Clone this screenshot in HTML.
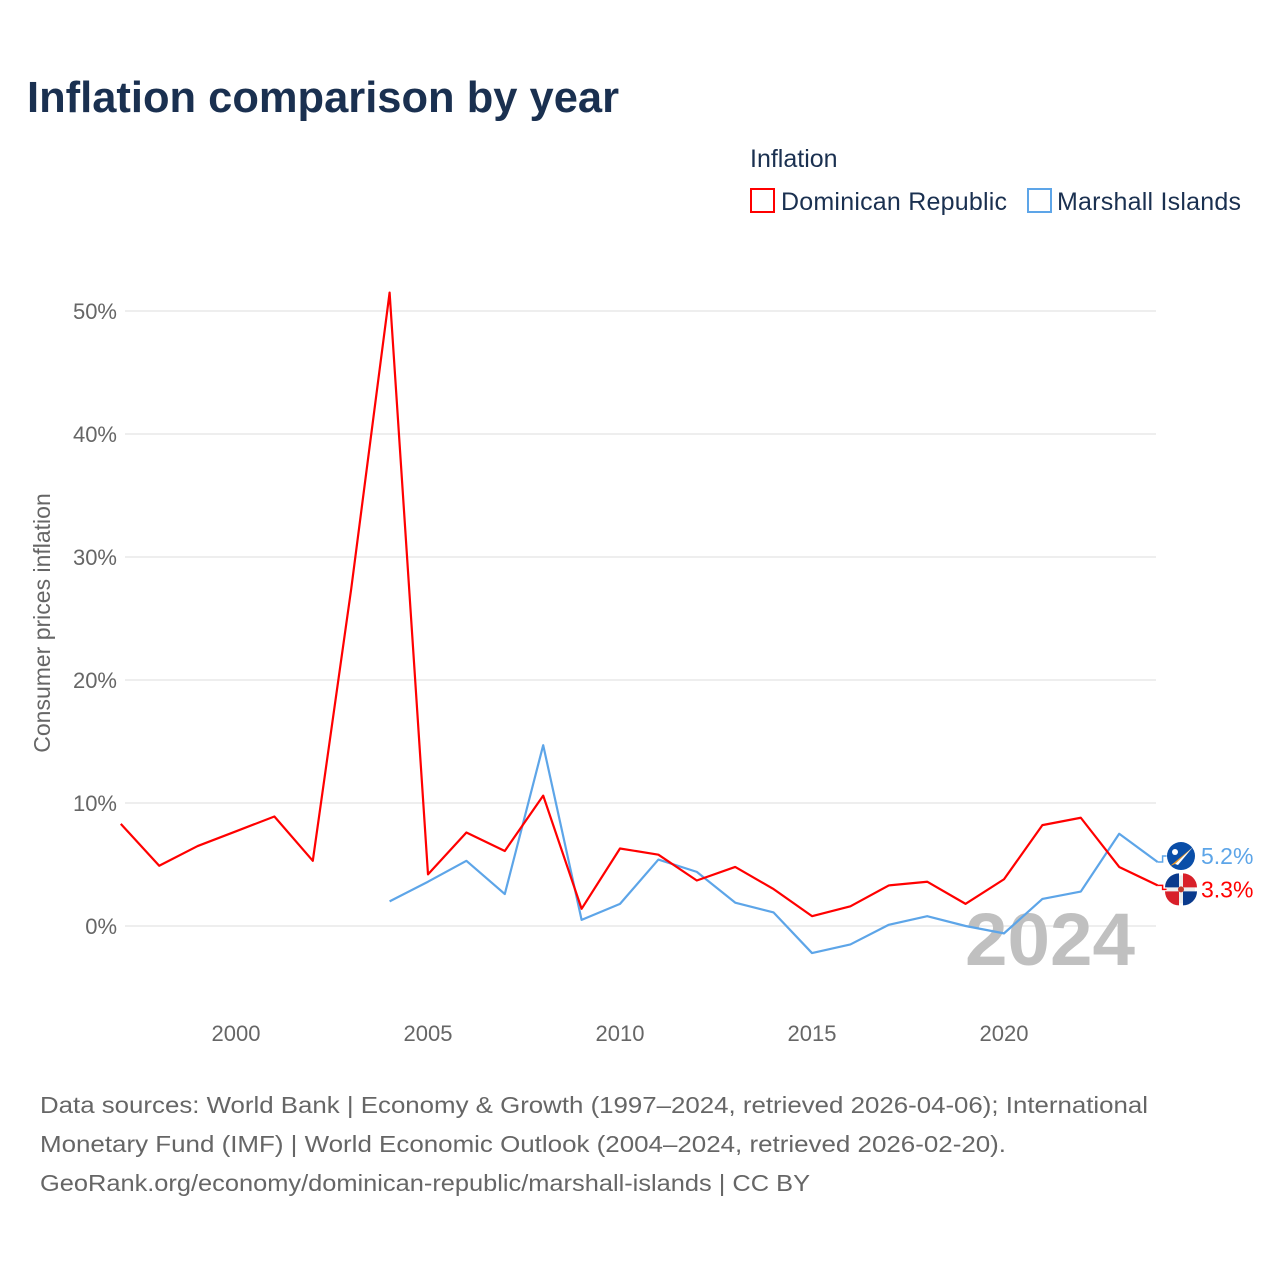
<!DOCTYPE html>
<html><head><meta charset="utf-8"><style>
body{margin:0;background:#fff;width:1280px;height:1280px;overflow:hidden;font-family:"Liberation Sans",sans-serif}
</style></head><body>
<svg width="1280" height="1280" id="chart" xmlns="http://www.w3.org/2000/svg">
<text x="27" y="112" font-size="44" font-weight="bold" fill="#1a3050" textLength="592" lengthAdjust="spacingAndGlyphs">Inflation comparison by year</text>
<g>
<text x="750" y="167" font-size="25" fill="#1a3050">Inflation</text>
<rect x="751" y="189" width="23" height="23" fill="none" stroke="#ff0000" stroke-width="2"/>
<text x="781" y="210" font-size="25" fill="#1a3050" textLength="226">Dominican Republic</text>
<rect x="1028" y="189" width="23" height="23" fill="none" stroke="#5da5e8" stroke-width="2"/>
<text x="1057" y="210" font-size="25" fill="#1a3050" textLength="184">Marshall Islands</text>
</g>
<g id="grid"></g>
<text transform="translate(50,623) rotate(-90)" text-anchor="middle" font-size="23" fill="#666">Consumer prices inflation</text>
<text x="1135" y="965" text-anchor="end" font-size="74" font-weight="bold" fill="#c0c0c0" textLength="170" lengthAdjust="spacingAndGlyphs">2024</text>
<g id="series"></g>
<g>
<g>
<circle id="fmi" cx="1181" r="14" fill="#0a4ea8"/>
</g>
<g id="fdr"></g>
</g>
<g font-size="23" fill="#666">
<text x="40" y="1113" textLength="1108" lengthAdjust="spacingAndGlyphs">Data sources: World Bank | Economy &amp; Growth (1997–2024, retrieved 2026-04-06); International</text>
<text x="40" y="1152" textLength="966" lengthAdjust="spacingAndGlyphs">Monetary Fund (IMF) | World Economic Outlook (2004–2024, retrieved 2026-02-20).</text>
<text x="40" y="1191" textLength="770" lengthAdjust="spacingAndGlyphs">GeoRank.org/economy/dominican-republic/marshall-islands | CC BY</text>
</g>
</svg>
<script>
const yearsDR=[1997,1998,1999,2000,2001,2002,2003,2004,2005,2006,2007,2008,2009,2010,2011,2012,2013,2014,2015,2016,2017,2018,2019,2020,2021,2022,2023,2024];
const valuesDR=[8.3,4.9,6.5,7.7,8.9,5.3,27.4,51.5,4.2,7.6,6.1,10.6,1.4,6.3,5.8,3.7,4.8,3.0,0.8,1.6,3.3,3.6,1.8,3.8,8.2,8.8,4.8,3.3];
const yearsMI=[2004,2005,2006,2007,2008,2009,2010,2011,2012,2013,2014,2015,2016,2017,2018,2019,2020,2021,2022,2023,2024];
const valuesMI=[2.0,3.6,5.3,2.6,14.7,0.5,1.8,5.4,4.4,1.9,1.1,-2.2,-1.5,0.1,0.8,0,-0.6,2.2,2.8,7.5,5.2];
const yTicks=[0,10,20,30,40,50];
const xTicks=[2000,2005,2010,2015,2020];
const X=y=>236+(y-2000)*38.4;
const Y=v=>926-v*12.3;
const NS="http://www.w3.org/2000/svg";
function mk(t,a,p){const e=document.createElementNS(NS,t);for(const k in a)e.setAttribute(k,a[k]);p.appendChild(e);return e;}
const g=document.getElementById('grid');
yTicks.forEach(v=>{
 const l=mk('line',{x1:125,x2:1156,y1:Y(v),y2:Y(v),stroke:'#e8e8e8','stroke-width':1.5},g);
 
 
 const t=mk('text',{x:117,y:Y(v)+8,'text-anchor':'end','font-size':22,fill:'#666'},g);
 t.textContent=v+'%';
 
 
});
xTicks.forEach(v=>{
 const t=mk('text',{x:X(v),y:1041,'text-anchor':'middle','font-size':22,fill:'#666'},g);
 t.textContent=v;
 
 
});
const s=document.getElementById('series');
function line(ys,vs,c,name){
 const p=mk('polyline',{points:ys.map((y,i)=>X(y)+','+Y(vs[i])).join(' '),fill:'none',stroke:c,'stroke-width':2.2,'stroke-linejoin':'round'},s);
 
 
}
line(yearsMI,valuesMI,'#5da5e8','line-marshall-islands');
line(yearsDR,valuesDR,'#ff0000','line-dominican-republic');
const root=document.getElementById('chart');
const lx=X(2024);
function endLabel(v,c,name,oy){
 const yy=Y(v)+oy;
 const p=mk('polyline',{points:`${lx},${Y(v)} ${lx+5},${Y(v)} ${lx+5},${yy} ${lx+9},${yy}`,fill:'none',stroke:c,'stroke-width':1.5},root);
 
 
 const t=mk('text',{x:1201,y:yy+8,'font-size':23,fill:c},root);
 t.textContent=v.toFixed(1)+'%';
 
 
 return yy;
}
const ymi=endLabel(valuesMI[valuesMI.length-1],'#5da5e8','marshall-islands',-6);
const ydr=endLabel(valuesDR[valuesDR.length-1],'#ff0000','dominican-republic',4);
document.getElementById('fmi').setAttribute('cy',ymi);
mk('polygon',{points:`${1170},${ymi+10} ${1193},${ymi-9} ${1175},${ymi+8}`,fill:'#f39a1f'},root);
mk('polygon',{points:`${1175},${ymi+8} ${1193},${ymi-9} ${1178},${ymi+9}`,fill:'#fff'},root);
mk('circle',{cx:1175,cy:ymi-4,r:3,fill:'#fff'},root);
const f=document.getElementById('fdr');
mk('circle',{cx:1181,cy:ydr,r:14,fill:'#eee'},f);
mk('path',{d:`M1181 ${ydr} L1167 ${ydr} A14 14 0 0 1 1181 ${ydr-14} Z`,fill:'#0a3a8c',transform:`translate(-2,-2)`},f);
mk('path',{d:`M1181 ${ydr} L1181 ${ydr-14} A14 14 0 0 1 1195 ${ydr} Z`,fill:'#d8202a',transform:`translate(2,-2)`},f);
mk('path',{d:`M1181 ${ydr} L1167 ${ydr} A14 14 0 0 0 1181 ${ydr+14} Z`,fill:'#d8202a',transform:`translate(-2,2)`},f);
mk('path',{d:`M1181 ${ydr} L1181 ${ydr+14} A14 14 0 0 0 1195 ${ydr} Z`,fill:'#0a3a8c',transform:`translate(2,2)`},f);
mk('circle',{cx:1181,cy:ydr,r:3,fill:'#c0392b'},f);
</script>
</body></html>
